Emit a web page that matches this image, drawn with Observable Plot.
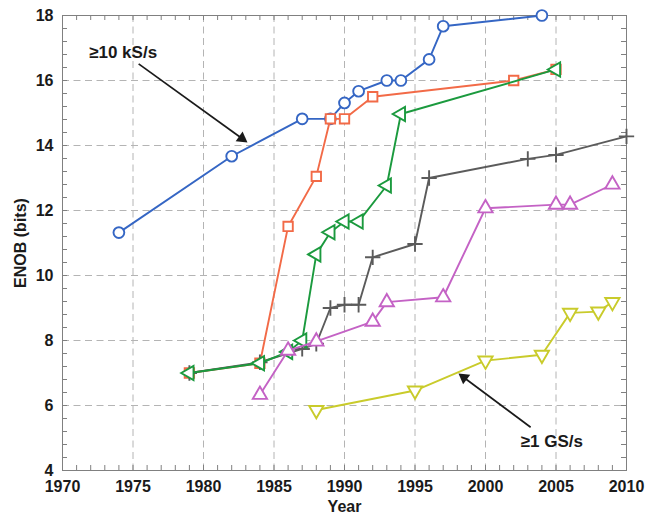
<!DOCTYPE html>
<html>
<head>
<meta charset="utf-8">
<script src="https://cdn.jsdelivr.net/npm/d3@7"></script>
<script src="https://cdn.jsdelivr.net/npm/@observablehq/plot@0.6"></script>
<style>
  html, body { margin: 0; padding: 0; background: #fff; }
</style>
</head>
<body>
<div id="chart"></div>
<script>
// ---- data ----
const blueYears   = [1974, 1982, 1987, 1989, 1990, 1991, 1993, 1994, 1996, 1997, 2004];
const blueValues  = [11.32, 13.67, 14.82, 14.82, 15.31, 15.67, 16.0, 16.0, 16.65, 17.67, 18.0];

const redYears    = [1979, 1984, 1986, 1988, 1989, 1990, 1992, 2002, 2005];
const redValues   = [7.0, 7.3, 11.51, 13.05, 14.82, 14.82, 15.5, 16.0, 16.34];

const greyYears   = [1979, 1984, 1987, 1988, 1989, 1990, 1991, 1992, 1995, 1996, 2003, 2005, 2010];
const greyValues  = [7.0, 7.33, 7.74, 7.9, 9.0, 9.1, 9.1, 10.56, 10.97, 13.0, 13.59, 13.71, 14.28];

const greenYears  = [1979, 1984, 1986, 1987, 1988, 1989, 1990, 1991, 1993, 1994, 2005];
const greenValues = [7.0, 7.3, 7.65, 8.0, 10.65, 11.33, 11.66, 11.66, 12.77, 14.97, 16.34];

const magentaYears  = [1984, 1986, 1988, 1992, 1993, 1997, 2000, 2005, 2006, 2009];
const magentaValues = [6.33, 7.69, 7.97, 8.58, 9.18, 9.33, 12.07, 12.18, 12.18, 12.8];

const yellowYears  = [1988, 1995, 2000, 2004, 2006, 2008, 2009];
const yellowValues = [5.86, 6.46, 7.38, 7.56, 8.85, 8.89, 9.18];

const xTickLabels = [1970, 1975, 1980, 1985, 1990, 1995, 2000, 2005, 2010];
const yTickLabels = [4, 6, 8, 10, 12, 14, 16, 18];
const xGridLines  = [1975, 1980, 1985, 1990, 1995, 2000, 2005];
const yGridLines  = [6, 8, 10, 12, 14, 16];
const xMinorTicks = d3.range(1970, 2011, 1);
const yMinorTicks = d3.range(0, 36).map(i => +(4 + i * 0.4).toFixed(1));

const annotationTexts = ["≥10 kS/s", "≥1 GS/s"];
const annotationX = [1974.3, 2004.7];
const annotationY = [16.86, 4.89];
const arrowFromX = [1975.4, 2003.2];
const arrowFromY = [16.51, 5.33];
const arrowToX   = [1983.1, 1998.1];
const arrowToY   = [14.1, 6.98];

// ---- build tables ----
const zip = (xs, ys) => xs.map((x, i) => ({x, y: ys[i]}));
const series = [
  {name: "blue",    data: zip(blueYears, blueValues),       color: "#3566c4", symbol: "circle",   r: 5.4, rotate: 0},
  {name: "red",     data: zip(redYears, redValues),         color: "#f26a47", symbol: "square",   r: 5.3, rotate: 0},
  {name: "grey",    data: zip(greyYears, greyValues),       color: "#5b5b5b", symbol: "plus",     r: 5.0, rotate: 0},
  {name: "green",   data: zip(greenYears, greenValues),     color: "#1b9a3e", symbol: "triangle", r: 5.3, rotate: -90},
  {name: "magenta", data: zip(magentaYears, magentaValues), color: "#c462c5", symbol: "triangle", r: 5.3, rotate: 0},
  {name: "yellow",  data: zip(yellowYears, yellowValues),   color: "#c9cb2b", symbol: "triangle", r: 5.3, rotate: 180}
];
const annotations = annotationTexts.map((t, i) => ({text: t, x: annotationX[i], y: annotationY[i]}));
const arrows = arrowFromX.map((x, i) => ({x1: x, y1: arrowFromY[i], x2: arrowToX[i], y2: arrowToY[i]}));

const W = 646, H = 516;
const mL = 62, mR = 20, mT = 15, mB = 46;
const innerW = W - mL - mR, innerH = H - mT - mB;
const tickLen = 5;
const frameColor = "#808080";
const arrowColor = "#1a1a1a";

function baseMarks() {
  const marks = [
    Plot.ruleX(xGridLines, {x: d => d, stroke: "#b4b4b4", strokeWidth: 1, strokeDasharray: "7,4.5"}),
    Plot.ruleY(yGridLines, {y: d => d, stroke: "#b4b4b4", strokeWidth: 1, strokeDasharray: "7,4.5"}),
    Plot.tickX(xMinorTicks, {x: d => d, stroke: frameColor, insetTop: innerH - tickLen}),
    Plot.tickX(xMinorTicks, {x: d => d, stroke: frameColor, insetBottom: innerH - tickLen}),
    Plot.tickY(yMinorTicks, {y: d => d, stroke: frameColor, insetRight: innerW - tickLen}),
    Plot.tickY(yMinorTicks, {y: d => d, stroke: frameColor, insetLeft: innerW - tickLen}),
    Plot.frame({stroke: frameColor, strokeWidth: 1}),
    Plot.axisX({ticks: xTickLabels, tickSize: 0, tickPadding: 10, tickFormat: d => String(d), label: null}),
    Plot.axisY({ticks: yTickLabels, tickSize: 0, tickPadding: 9, tickFormat: d => String(d), label: null}),
    Plot.text(["Year"], {frameAnchor: "bottom", dy: 36, lineAnchor: "middle", fontSize: 16, fontWeight: "bold"}),
    Plot.text(["ENOB (bits)"], {frameAnchor: "left", dx: -42, rotate: -90, textAnchor: "middle", lineAnchor: "middle", fontSize: 16, fontWeight: "bold"})
  ];
  for (const s of series) {
    marks.push(Plot.line(s.data, {x: "x", y: "y", stroke: s.color, strokeWidth: 1.9}));
    marks.push(Plot.dot(s.data, {
      x: "x", y: "y", symbol: s.symbol, r: s.r, rotate: s.rotate,
      stroke: s.color, strokeWidth: 1.9, fill: s.symbol === "plus" ? "none" : "white"
    }));
  }
  return marks;
}

const plotOptions = (marks) => ({
  width: W, height: H,
  marginLeft: mL, marginRight: mR, marginTop: mT, marginBottom: mB,
  style: {fontFamily: "'Liberation Sans', Arial, sans-serif", fontSize: "16px", fontWeight: "bold", background: "#fff", color: "#1a1a1a"},
  x: {domain: [1970, 2010]},
  y: {domain: [4, 18]},
  marks
});

// first pass to obtain scales for the filled arrow heads
const probe = Plot.plot(plotOptions(baseMarks()));
const sx = probe.scale("x"), sy = probe.scale("y");
const headR = 4.2;
const headCentroidBack = 2 * Math.sqrt(Math.PI * headR * headR / (Math.sqrt(3) * 3));
const heads = arrows.map(a => {
  const px1 = sx.apply(a.x1), py1 = sy.apply(a.y1), px2 = sx.apply(a.x2), py2 = sy.apply(a.y2);
  const dx = px2 - px1, dy = py2 - py1, len = Math.hypot(dx, dy);
  const ux = dx / len, uy = dy / len;
  const cx = px2 - ux * headCentroidBack, cy = py2 - uy * headCentroidBack;
  const angle = Math.atan2(uy, ux) * 180 / Math.PI + 90;
  const bx = px2 - ux * headCentroidBack * 1.3, by = py2 - uy * headCentroidBack * 1.3;
  return {x: sx.invert(cx), y: sy.invert(cy), angle, x1: a.x1, y1: a.y1, xb: sx.invert(bx), yb: sy.invert(by)};
});

const marks = baseMarks();
marks.push(Plot.link(heads, {x1: "x1", y1: "y1", x2: "xb", y2: "yb", stroke: arrowColor, strokeWidth: 1.7}));
marks.push(Plot.dot(heads, {x: "x", y: "y", symbol: "triangle2", r: headR * 1.35, rotate: "angle", fill: arrowColor, stroke: "none"}));
marks.push(Plot.text(annotations, {x: "x", y: "y", text: "text", fontSize: 17, fontWeight: "bold", fill: arrowColor}));

const chart = Plot.plot(plotOptions(marks));
document.getElementById("chart").appendChild(chart);
</script>
</body>
</html>
